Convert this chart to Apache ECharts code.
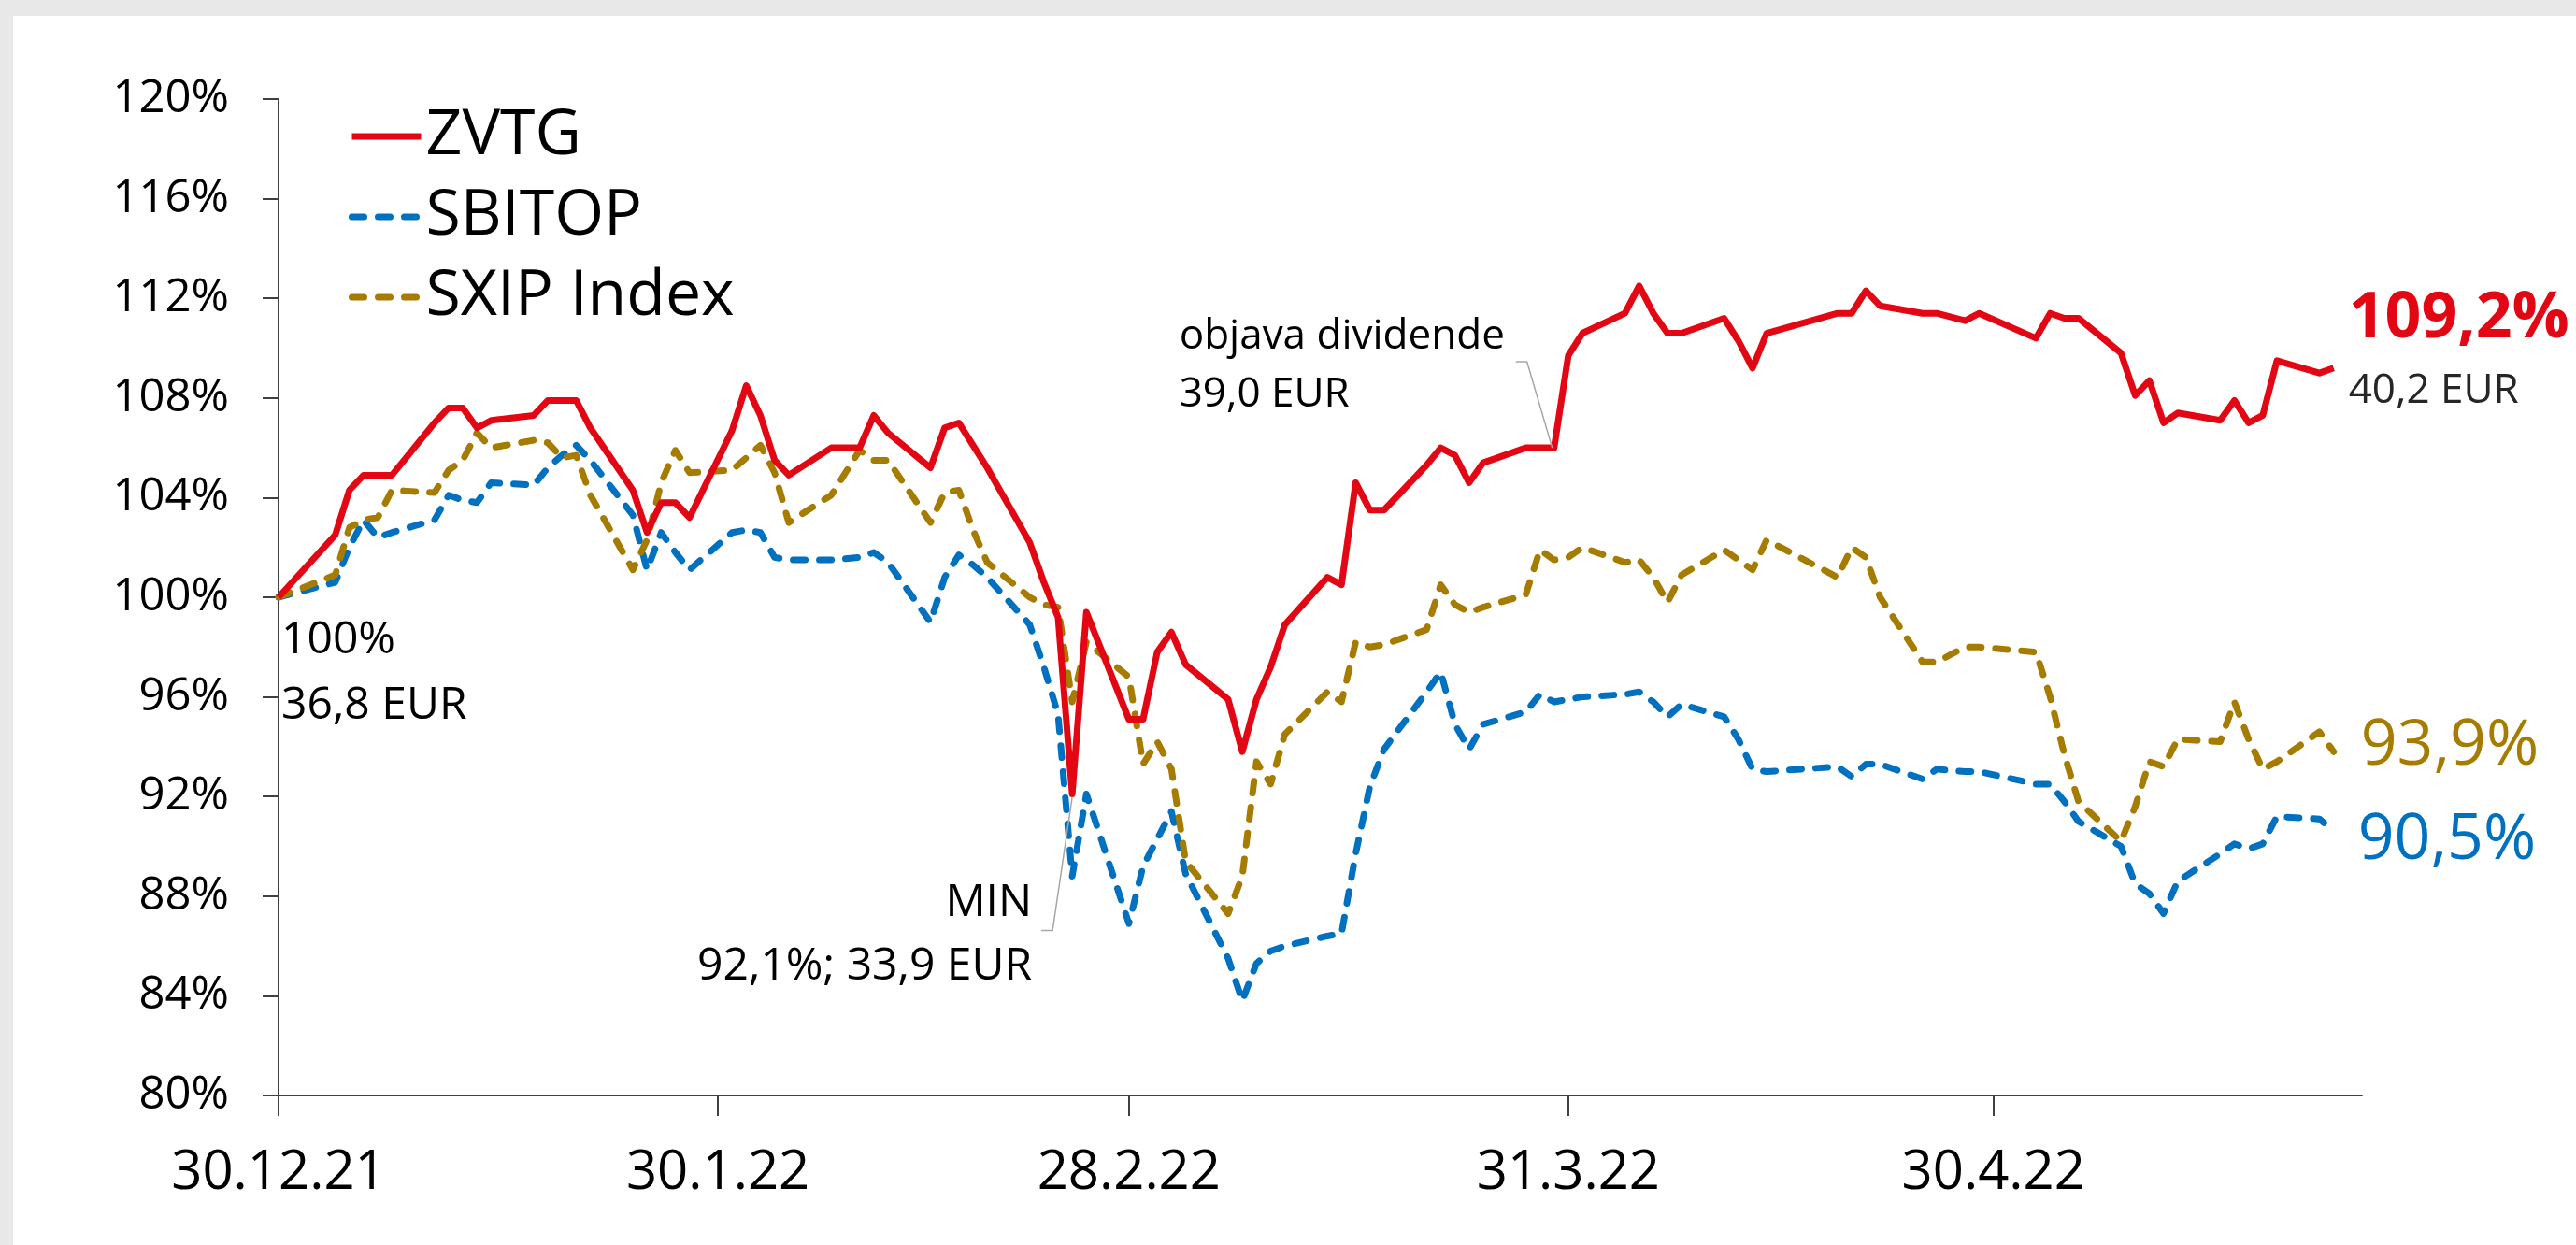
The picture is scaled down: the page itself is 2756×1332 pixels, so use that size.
<!DOCTYPE html>
<html>
<head>
<meta charset="utf-8">
<script src="https://cdn.jsdelivr.net/npm/echarts/dist/echarts.min.js"></script>
<style>
  html, body { margin: 0; padding: 0; background: #e8e8e8; }
  #J_chart { position: absolute; left: 14px; top: 17px; width: 2742px; height: 1315px; background: #fff; }
</style>
</head>
<body>
<div id="J_chart"></div>
<script>
var dates = ['2021-12-30','2022-01-03','2022-01-04','2022-01-05','2022-01-06','2022-01-07','2022-01-10','2022-01-11','2022-01-12','2022-01-13',
  '2022-01-14','2022-01-17','2022-01-18','2022-01-19','2022-01-20','2022-01-21','2022-01-24','2022-01-25','2022-01-26','2022-01-27',
  '2022-01-28','2022-01-31','2022-02-01','2022-02-02','2022-02-03','2022-02-04','2022-02-07','2022-02-09','2022-02-10','2022-02-11',
  '2022-02-14','2022-02-15','2022-02-16','2022-02-17','2022-02-18','2022-02-21','2022-02-22','2022-02-23','2022-02-24','2022-02-25',
  '2022-02-28','2022-03-01','2022-03-02','2022-03-03','2022-03-04','2022-03-07','2022-03-08','2022-03-09','2022-03-10','2022-03-11',
  '2022-03-14','2022-03-15','2022-03-16','2022-03-17','2022-03-18','2022-03-21','2022-03-22','2022-03-23','2022-03-24','2022-03-25',
  '2022-03-28','2022-03-29','2022-03-30','2022-03-31','2022-04-01','2022-04-04','2022-04-05','2022-04-06','2022-04-07','2022-04-08',
  '2022-04-11','2022-04-12','2022-04-13','2022-04-14','2022-04-19','2022-04-20','2022-04-21','2022-04-22','2022-04-25','2022-04-26',
  '2022-04-28','2022-04-29','2022-05-03','2022-05-04','2022-05-05','2022-05-06','2022-05-09','2022-05-10','2022-05-11','2022-05-12',
  '2022-05-13','2022-05-16','2022-05-17','2022-05-18','2022-05-19','2022-05-20','2022-05-23','2022-05-24'];

var zvtg = [100.0,102.5,104.3,104.9,104.9,104.9,107.0,107.6,107.6,106.8,
  107.1,107.3,107.9,107.9,107.9,106.8,104.3,102.6,103.8,103.8,
  103.2,106.7,108.5,107.3,105.5,104.9,106.0,106.0,107.3,106.6,
  105.2,106.8,107.0,106.1,105.2,102.2,100.6,99.2,92.1,99.4,
  95.1,95.1,97.8,98.6,97.3,95.9,93.8,95.9,97.2,98.9,
  100.8,100.5,104.6,103.5,103.5,105.3,106.0,105.7,104.6,105.4,
  106.0,106.0,106.0,109.7,110.6,111.4,112.5,111.4,110.6,110.6,
  111.2,110.3,109.2,110.6,111.4,111.4,112.3,111.7,111.4,111.4,
  111.1,111.4,110.4,111.4,111.2,111.2,109.8,108.1,108.7,107.0,
  107.4,107.1,107.9,107.0,107.3,109.5,109.0,109.2];

var sbitop = [100.0,100.6,102.0,103.1,102.4,102.6,103.1,104.1,103.9,103.8,
  104.6,104.5,105.2,105.7,106.1,105.5,103.3,101.1,102.6,101.8,
  101.1,102.6,102.7,102.6,101.6,101.5,101.5,101.6,101.8,101.4,
  99.0,100.8,101.7,101.3,100.8,98.9,97.2,95.3,88.8,92.1,
  86.9,89.2,90.3,91.4,88.9,85.5,83.8,85.3,85.8,86.0,
  86.4,86.5,89.7,92.4,93.9,96.2,97.0,94.9,93.9,94.9,
  95.4,96.1,95.8,95.9,96.0,96.1,96.2,95.8,95.2,95.7,
  95.2,94.3,93.1,93.0,93.2,92.8,93.3,93.3,92.7,93.1,
  93.0,93.0,92.5,92.5,91.8,91.0,90.0,88.5,88.1,87.3,
  88.6,89.7,90.1,89.9,90.1,91.2,91.1,90.6];

var sxip = [100.0,100.9,102.8,103.1,103.2,104.3,104.2,105.1,105.5,106.6,
  106.0,106.3,106.2,105.6,105.7,104.1,101.1,102.3,104.6,105.9,
  105.0,105.1,105.6,106.1,105.0,103.0,104.1,105.9,105.5,105.5,
  103.0,104.2,104.3,102.7,101.4,100.0,99.7,99.6,95.8,98.2,
  96.8,93.3,94.2,93.1,89.4,87.3,88.8,93.4,92.5,94.5,
  96.2,95.8,98.2,98.0,98.1,98.7,100.5,99.7,99.4,99.6,
  100.1,101.9,101.5,101.6,102.0,101.4,101.5,100.8,99.8,100.9,
  101.9,101.5,101.1,102.3,100.8,102.0,101.6,100.0,97.4,97.4,
  98.0,98.0,97.8,96.0,93.7,91.8,90.2,91.6,93.4,93.2,
  94.3,94.2,95.8,94.3,93.1,93.4,94.6,93.8];

var tickDates = ['2021-12-30','2022-01-30','2022-02-28','2022-03-31','2022-04-30'];
var endLabels = ['109,2%', '93,9%', '90,5%'];

(function(){
    var FONT = '"Open Sans", "Noto Sans", sans-serif';
    function ts(s) {
        var p = s.split('-');
        return new Date(+p[0], +p[1] - 1, +p[2]).getTime();
    }
    function pairs(vals) {
        return dates.map(function (d, i) { return [ts(d), vals[i]]; });
    }
    var myChart = echarts.init(document.getElementById('J_chart'));

    var option = {
        animation: false,
        backgroundColor: '#fff',
        grid: { left: 284, right: 229, top: 89, bottom: 160 },
        legend: {
            orient: 'vertical',
            left: 354,
            top: 90,
            itemWidth: 74,
            itemHeight: 20,
            itemGap: 18,
            data: ['ZVTG', 'SBITOP', 'SXIP Index'],
            itemStyle: { opacity: 0 },   // line only, no marker
            lineStyle: { width: 7 },
            textStyle: { fontSize: 68, fontFamily: FONT, color: '#000' }
        },
        xAxis: {
            // dates as timestamps on a value axis, ticks only on the marked days
            type: 'value',
            min: ts('2021-12-30'),
            max: ts('2022-05-26'),
            axisLine: { lineStyle: { color: '#404040', width: 2 } },
            axisTick: {
                show: true,
                length: 22,
                customValues: tickDates.map(ts),
                lineStyle: { color: '#404040', width: 2 }
            },
            axisLabel: {
                customValues: tickDates.map(ts),
                margin: 54,
                fontSize: 58,
                fontFamily: FONT,
                color: '#000',
                formatter: function (v) {
                    var d = new Date(v);
                    return d.getDate() + '.' + (d.getMonth() + 1) + '.' + String(d.getFullYear()).slice(2);
                }
            },
            splitLine: { show: false }
        },
        yAxis: {
            type: 'value',
            min: 80,
            max: 120,
            interval: 4,
            axisLine: { show: true, lineStyle: { color: '#404040', width: 2 } },
            axisTick: { show: true, length: 17, lineStyle: { color: '#404040', width: 2 } },
            axisLabel: {
                margin: 53,
                fontSize: 49,
                fontFamily: FONT,
                color: '#000',
                formatter: '{value}%'
            },
            splitLine: { show: false }
        },
        series: [
            {
                name: 'SBITOP',
                type: 'line',
                symbol: 'none',
                data: pairs(sbitop),
                lineStyle: { color: '#0070c0', width: 7, type: [13, 15], cap: 'round', join: 'round' },
                itemStyle: { color: '#0070c0' }
            },
            {
                name: 'SXIP Index',
                type: 'line',
                symbol: 'none',
                data: pairs(sxip),
                lineStyle: { color: '#a67c00', width: 7, type: [13, 15], cap: 'round', join: 'round' },
                itemStyle: { color: '#a67c00' }
            },
            {
                name: 'ZVTG',
                type: 'line',
                symbol: 'none',
                data: pairs(zvtg),
                lineStyle: { color: '#e30613', width: 7, join: 'round' },
                itemStyle: { color: '#e30613' }
            }
        ]
    };

    myChart.setOption(option);

    // annotations, placed relative to the data points they refer to
    function pt(vals, i) {
        return myChart.convertToPixel({ gridIndex: 0 }, [ts(dates[i]), vals[i]]);
    }
    function txt(x, baseline, s, size, color, align, weight) {
        return {
            type: 'text', x: x, y: baseline - 0.26 * size, z: 100,
            style: {
                text: s, fill: color, fontSize: size, fontFamily: FONT,
                fontWeight: weight || 'normal', align: align, verticalAlign: 'middle'
            }
        };
    }
    function leader(points) {
        return { type: 'polyline', z: 99, shape: { points: points },
                 style: { stroke: '#a6a6a6', lineWidth: 1.5, fill: null } };
    }
    var last = dates.length - 1;
    var p0 = pt(zvtg, 0);
    var iMin = zvtg.indexOf(Math.min.apply(null, zvtg));
    var pMin = pt(zvtg, iMin);
    var pDiv = pt(zvtg, dates.indexOf('2022-03-30'));
    var pR = pt(zvtg, last), pG = pt(sxip, last), pB = pt(sbitop, last);

    var graphics = [
        txt(p0[0] + 3, p0[1] + 59, '100%', 48, '#000', 'left'),
        txt(p0[0] + 3, p0[1] + 129, '36,8 EUR', 48, '#000', 'left'),

        leader([[pMin[0], pMin[1] + 3], [pMin[0] - 21, pMin[1] + 146], [pMin[0] - 33, pMin[1] + 146]]),
        txt(pMin[0] - 43, pMin[1] + 129, 'MIN', 48, '#000', 'right'),
        txt(pMin[0] - 43, pMin[1] + 197, '92,1%; 33,9 EUR', 48, '#000', 'right'),

        leader([[pDiv[0] - 2, pDiv[1]], [pDiv[0] - 29, pDiv[1] - 92], [pDiv[0] - 41, pDiv[1] - 92]]),
        txt(pDiv[0] - 401, pDiv[1] - 107, 'objava dividende', 44, '#000', 'left'),
        txt(pDiv[0] - 401, pDiv[1] - 45, '39,0 EUR', 44, '#000', 'left'),

        txt(pR[0] + 16, pR[1] - 35, endLabels[0], 68, '#e30613', 'left', 'bold'),
        txt(pR[0] + 16, pR[1] + 36, '40,2 EUR', 44, '#262626', 'left'),
        txt(pG[0] + 29, pG[1] + 12, endLabels[1], 68, '#a67c00', 'left'),
        txt(pB[0] + 26, pB[1] + 28, endLabels[2], 68, '#0070c0', 'left')
    ];
    myChart.setOption({ graphic: graphics });
})();
</script>
</body>
</html>
